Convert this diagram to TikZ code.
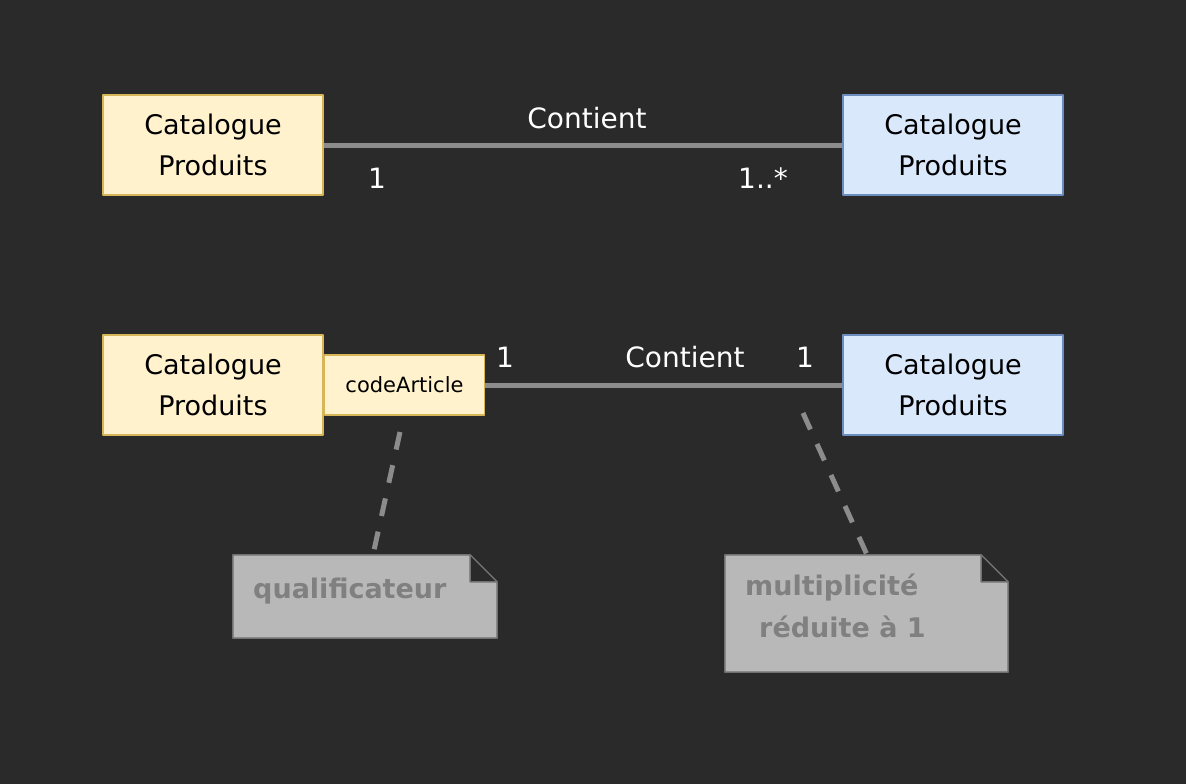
\documentclass[tikz,border=0pt]{standalone}
\usepackage{fontspec}
\setmainfont{DejaVu Sans}
\definecolor{fondgris}{HTML}{2A2A2A}
\definecolor{jaunefond}{HTML}{FFF2CC}
\definecolor{jaunebord}{HTML}{D6B656}
\definecolor{bleufond}{HTML}{DAE8FC}
\definecolor{bleubord}{HTML}{6C8EBF}
\definecolor{traitgris}{HTML}{8C8C8C}
\definecolor{notefond}{HTML}{B8B8B8}
\definecolor{notebord}{HTML}{707070}
\definecolor{notetexte}{HTML}{808080}
\tikzset{
  classe/.style={draw,line width=1.5pt,minimum width=220pt,minimum height=100pt,
    inner sep=0pt,align=center,font=\fontsize{27}{41}\selectfont,text=black},
  jaune/.style={classe,fill=jaunefond,draw=jaunebord},
  bleu/.style={classe,fill=bleufond,draw=bleubord},
  qualif/.style={draw=jaunebord,fill=jaunefond,line width=1.5pt,minimum width=160pt,
    minimum height=60pt,inner sep=0pt,font=\fontsize{21}{24}\selectfont,text=black},
  lien/.style={draw=traitgris,line width=5pt},
  etiq/.style={text=white,font=\fontsize{28}{32}\selectfont,inner sep=0pt},
  pointille/.style={draw=traitgris,line width=5pt,dash pattern=on 18pt off 16pt},
  notetxt/.style={text=notetexte,font=\bfseries\fontsize{27}{42}\selectfont,inner sep=0pt,align=left}
}
\begin{document}
\begin{tikzpicture}[x=1pt,y=-1pt,line join=round]
  \fill[fondgris] (0,0) rectangle (1186,784);
  \useasboundingbox (0,0) rectangle (1186,784);
  % premiere association
  \node[jaune] (cat1) at (213,145) {Catalogue\\Produits};
  \node[bleu] (cat2) at (953,145) {Catalogue\\Produits};
  \draw[lien] (cat1.east)--(cat2.west);
  \node[etiq] (nom1) at (587,118) {Contient};
  \node[etiq] (m1a) at (377,178) {1};
  \node[etiq] (m1b) at (763,178) {1..*};
  % association qualifiee
  \node[jaune] (cat3) at (213,385) {Catalogue\\Produits};
  \node[qualif,anchor=west] (code) at (cat3.east) {codeArticle};
  \node[bleu] (cat4) at (953,385) {Catalogue\\Produits};
  \draw[lien] (code.east)--(cat4.west);
  \node[etiq] (m2a) at (505,357) {1};
  \node[etiq] (nom2) at (685,357) {Contient};
  \node[etiq] (m2b) at (805,357) {1};
  % notes
  \node[minimum width=264pt,minimum height=83pt,inner sep=0pt] (note1) at (365,596.5) {};
  \node[minimum width=283pt,minimum height=117pt,inner sep=0pt] (note2) at (866.5,613.5) {};
  \foreach \n in {note1,note2}
    \draw[fill=notefond,draw=notebord,line width=1.5pt]
      (\n.north west) -- ([xshift=-27pt]\n.north east) -- ([yshift=-27pt]\n.north east)
      -- (\n.south east) -- (\n.south west) -- cycle
      ([xshift=-27pt]\n.north east) -- ([xshift=-27pt,yshift=-27pt]\n.north east)
      -- ([yshift=-27pt]\n.north east);
  \node[notetxt,anchor=west] (t1) at (253,591) {qualificateur};
  \node[notetxt,anchor=north west] (t2) at (745,574) {multiplicité\\\hspace*{14pt}réduite à 1};
  \coordinate (q1) at (400,432);
  \coordinate (q2) at (803,413);
  \draw[pointille] (q1)--(note1.north -| 373,0);
  \draw[pointille] (q2)--(note2.north -| 867,0);
\end{tikzpicture}
\end{document}
